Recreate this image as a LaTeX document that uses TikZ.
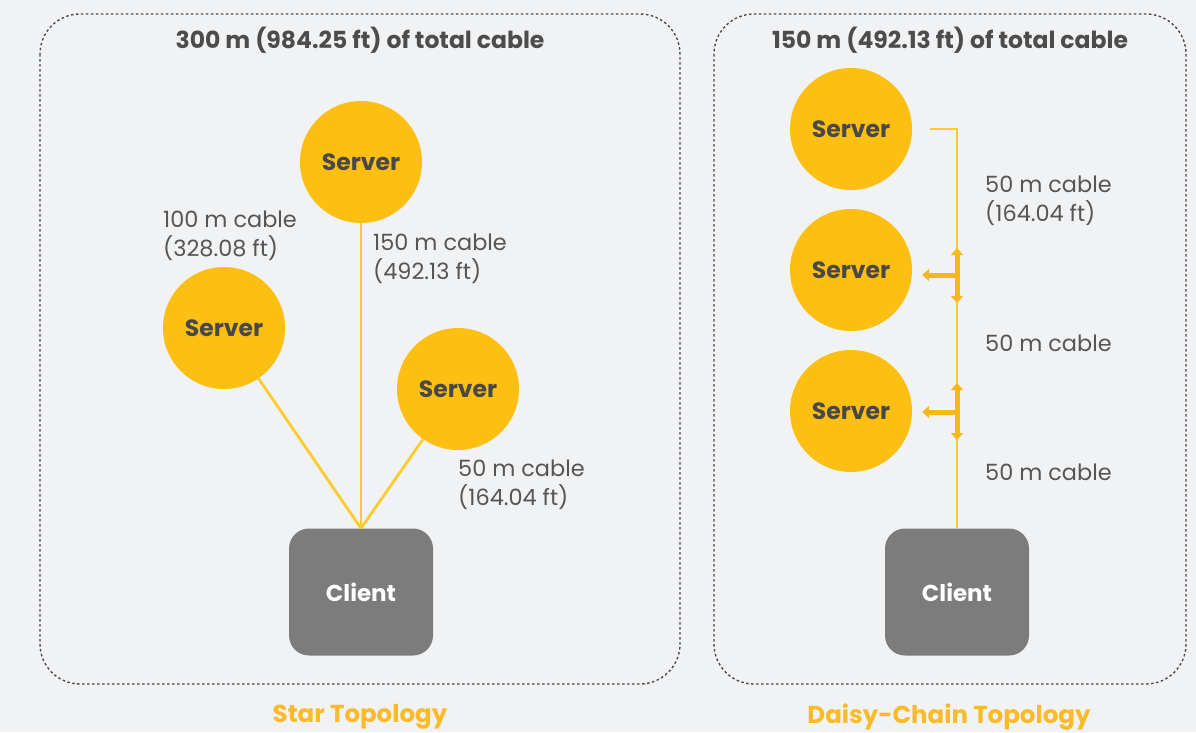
\documentclass[tikz,border=0pt]{standalone}
\usepackage{fontspec}
\setmainfont{Poppins}
\usetikzlibrary{arrows.meta}
\definecolor{bg}{HTML}{F1F2F4}
\definecolor{srv}{HTML}{FCBF12}
\definecolor{cable}{HTML}{F9CC30}
\definecolor{tee}{HTML}{F8B81A}
\definecolor{cli}{HTML}{7B7C7B}
\definecolor{txt}{HTML}{555555}
\definecolor{frame}{HTML}{4A4A4A}
\definecolor{ttl}{HTML}{FBBA27}
\tikzset{
  panel/.style={draw=frame, line width=1.4pt, dash pattern=on 2.5pt off 2.5pt, rounded corners=40pt},
  server/.style={circle, fill=srv, minimum size=122pt, inner sep=0pt, font=\fontsize{23.5}{26}\selectfont\bfseries, text=txt!85!black},
  client/.style={rounded corners=20pt, fill=cli, minimum width=144pt, minimum height=127pt, inner sep=0pt, font=\fontsize{23}{26}\selectfont\bfseries, text=white},
  cableline/.style={draw=cable, line width=2.8pt},
  teeline/.style={draw=tee, line width=5pt, -{Triangle[width=12pt,length=7pt]}},
  lab/.style={font=\fontsize{22.4}{29}\selectfont, text=txt, align=left, anchor=north west, inner sep=0pt},
  head/.style={font=\fontsize{23.5}{26}\selectfont\bfseries, text=txt!90!black, inner sep=0pt},
  title/.style={font=\fontsize{24.5}{26}\selectfont\bfseries, text=ttl, inner sep=0pt}
}
\begin{document}
\begin{tikzpicture}[x=1pt,y=-1pt]
\fill[bg] (0,0) rectangle (1196,732);
\useasboundingbox (0,0) rectangle (1196,732);
% panels
\draw[panel] (40,14) rectangle (680,684);
\draw[panel] (714,14) rectangle (1186,684);
\node[head] (h1) at (360,40) {300 m (984.25 ft) of total cable};
\node[head] (h2) at (950,40) {150 m (492.13 ft) of total cable};
\node[title] (t1) at (360,717) {Star Topology};
\node[title] (t2) at (949,717) {Daisy-Chain Topology};
% star
\node[client] (c1) at (361,592) {Client};
\node[server] (s1) at (224,328) {Server};
\node[server] (s2) at (361,162) {Server};
\node[server] (s3) at (458,389) {Server};
\draw[cableline] (s1) -- (c1.north);
\draw[cableline] (s2) -- (c1.north);
\draw[cableline] (s3) -- (c1.north);
\node[lab] (l1) at (163,211) {100 m cable\\(328.08 ft)};
\node[lab] (l2) at (373,234) {150 m cable\\(492.13 ft)};
\node[lab] (l3) at (458,460) {50 m cable\\(164.04 ft)};
% daisy chain
\node[client] (c2) at (957,592) {Client};
\node[server] (d1) at (851,129) {Server};
\node[server] (d2) at (851,270) {Server};
\node[server] (d3) at (851,411) {Server};
\coordinate (top) at (957,129);
\coordinate (stub) at (930,129);
\draw[cableline] (stub) -- (top) -- (c2.north);
\coordinate (j1) at (957,275);
\coordinate (j2) at (957,412);
\draw[teeline] (j1) -- (957,248);
\draw[teeline] (j1) -- (957,303);
\draw[teeline, shorten >=10pt] (j1) -- (j1 -| d2.east);
\draw[teeline] (j2) -- (957,383);
\draw[teeline] (j2) -- (957,440);
\draw[teeline, shorten >=10pt] (j2) -- (j2 -| d3.east);
\node[lab] (m1) at (985,176) {50 m cable\\(164.04 ft)};
\node[lab] (m2) at (985,335) {50 m cable};
\node[lab] (m3) at (985,464) {50 m cable};
\end{tikzpicture}
\end{document}
